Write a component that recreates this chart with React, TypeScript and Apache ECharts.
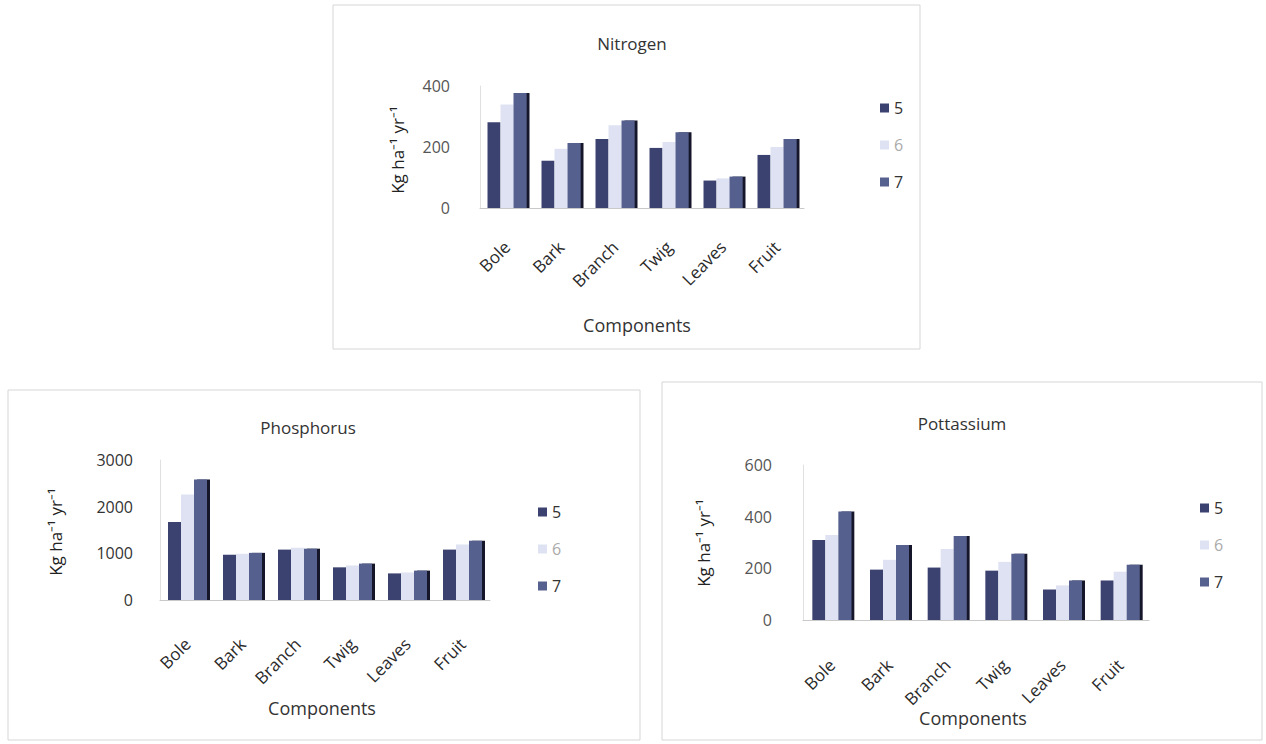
import React, { useEffect, useRef } from "react";
import * as echarts from "echarts";

const categories = ["Bole", "Bark", "Branch", "Twig", "Leaves", "Fruit"];
const seriesNames = ["5", "6", "7"];

const nitrogen5 = [281, 155, 226, 197, 90, 174];
const nitrogen6 = [339, 194, 271, 216, 97, 200];
const nitrogen7 = [377, 213, 287, 248, 103, 226];

const phosphorus5 = [1670, 970, 1080, 700, 570, 1080];
const phosphorus6 = [2260, 990, 1120, 740, 590, 1190];
const phosphorus7 = [2580, 1010, 1100, 780, 630, 1270];

const potassium5 = [310, 195, 203, 191, 118, 153];
const potassium6 = [329, 233, 275, 225, 134, 187];
const potassium7 = [420, 290, 325, 256, 153, 214];

const chartTitles = ["Nitrogen", "Phosphorus", "Pottassium"];
const xAxisTitle = "Components";
const yAxisTitle = "Kg ha\u207B\u00B9 yr\u207B\u00B9";

const yMax = [400, 3000, 600];
const yStep = [200, 1000, 200];

const FONT = "Open Sans";
const colors = ["#3c4270", "#dfe2f2", "#56618f"];

export default function App() {
  const ref = useRef<HTMLDivElement>(null);

  useEffect(() => {
    if (!ref.current) return;
    const chart = echarts.init(ref.current, null, { renderer: "svg" });

    const grids = [
      { left: 480, top: 86, width: 324, height: 122 },
      { left: 160, top: 460, width: 330, height: 140 },
      { left: 803, top: 465, width: 346, height: 155 },
    ];
    const labelMargins = [36, 41, 42];
    const yLabelMargins = [30, 27, 31];
    const data = [
      [nitrogen5, nitrogen6, nitrogen7],
      [phosphorus5, phosphorus6, phosphorus7],
      [potassium5, potassium6, potassium7],
    ];
    const barWidths = [13, 13, 13];

    const xAxes = grids.map((_, i) => ({
      type: "category",
      gridIndex: i,
      data: categories,
      axisLine: { show: true, lineStyle: { color: "#c9c9c9", width: 1 } },
      axisTick: { show: false },
      axisLabel: {
        rotate: 45,
        margin: labelMargins[i],
        fontFamily: FONT,
        fontSize: 17,
        color: "#2a2a2a",
        interval: 0,
      },
    }));

    const yAxes = grids.map((_, i) => ({
      type: "value",
      gridIndex: i,
      min: 0,
      max: yMax[i],
      interval: yStep[i],
      axisLine: { show: true, lineStyle: { color: "#e0e0e0" } },
      axisTick: { show: false },
      splitLine: { show: false },
      axisLabel: {
        margin: yLabelMargins[i],
        fontFamily: FONT,
        fontSize: 16,
        color: i === 1 ? "#333" : "#555",
        formatter: (v: number) => String(v),
      },
    }));

    const series: any[] = [];
    data.forEach((group, gi) => {
      group.forEach((vals, si) => {
        series.push({
          type: "bar",
          name: seriesNames[si],
          xAxisIndex: gi,
          yAxisIndex: gi,
          data: vals,
          barWidth: barWidths[gi],
          barGap: "0%",
          itemStyle: {
            color: colors[si],
            ...(si === 2
              ? { shadowColor: "#15182a", shadowOffsetX: 3, shadowBlur: 0 }
              : {}),
          },
        });
      });
    });

    const legendPos = [
      { left: 875, top: 95 },
      { left: 533, top: 499 },
      { left: 1195, top: 495 },
    ];
    const legends = legendPos.map((p) => ({
      orient: "vertical",
      left: p.left,
      top: p.top,
      itemWidth: 9,
      itemHeight: 9,
      itemGap: 21,
      icon: "rect",
      selectedMode: false,
      textStyle: { fontFamily: FONT, fontSize: 16, lineHeight: 16, color: "#333" },
      data: [
        { name: "5" },
        { name: "6", textStyle: { color: "#aaa" } },
        { name: "7" },
      ],
    }));

    const titlePos = [
      [632, 43],
      [308, 427],
      [962, 423],
    ];
    const compPos = [
      [637, 325],
      [322, 708],
      [973, 718],
    ];
    const yNamePos = [
      [397, 150],
      [55, 532],
      [703, 543],
    ];
    const boxes = [
      [333, 5, 587, 344],
      [8, 390, 632, 350],
      [662, 382, 600, 358],
    ];

    const graphic: any[] = [];
    boxes.forEach((b) => {
      graphic.push({
        type: "rect",
        shape: { x: b[0], y: b[1], width: b[2], height: b[3] },
        style: { fill: "none", stroke: "#d6d6d6", lineWidth: 1 },
        silent: true,
        z: -1,
      });
    });
    titlePos.forEach((p, i) => {
      graphic.push({
        type: "text",
        x: p[0],
        y: p[1],
        style: {
          text: chartTitles[i],
          fontFamily: FONT,
          fontSize: 17,
          fill: "#333",
          align: "center",
          verticalAlign: "middle",
        },
      });
    });
    compPos.forEach((p) => {
      graphic.push({
        type: "text",
        x: p[0],
        y: p[1],
        style: {
          text: xAxisTitle,
          fontFamily: FONT,
          fontSize: 18,
          fill: "#333",
          align: "center",
          verticalAlign: "middle",
        },
      });
    });
    yNamePos.forEach((p) => {
      graphic.push({
        type: "text",
        x: p[0],
        y: p[1],
        rotation: Math.PI / 2,
        style: {
          text: yAxisTitle,
          fontFamily: FONT,
          fontSize: 17,
          fill: "#222",
          align: "center",
          verticalAlign: "middle",
        },
      });
    });

    chart.setOption({
      animation: false,
      backgroundColor: "#ffffff",
      grid: grids,
      xAxis: xAxes,
      yAxis: yAxes,
      legend: legends,
      series,
      graphic,
    });

    return () => chart.dispose();
  }, []);

  return (
    <div
      ref={ref}
      style={{ position: "absolute", left: 0, top: 0, width: 1266, height: 744 }}
    />
  );
}
